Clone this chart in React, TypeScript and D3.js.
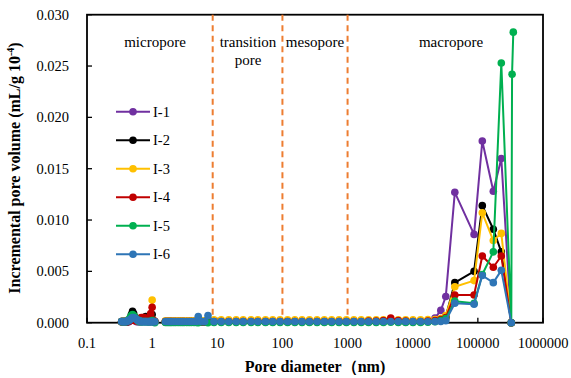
import React from 'react';
import * as d3 from 'd3';

// ---------- data ----------
const diametersCO2 = [0.34, 0.36, 0.38, 0.40, 0.42, 0.44, 0.46, 0.48, 0.50, 0.52, 0.55, 0.58, 0.61, 0.64, 0.68, 0.72, 0.76, 0.80, 0.85, 0.90, 0.95, 1.00, 1.05, 1.10];
const diametersN2 = [1.6, 1.7, 1.8, 1.9, 2.0, 2.15, 2.3, 2.5, 2.7, 2.9, 3.1, 3.4, 3.7, 4.0, 4.4, 4.8, 5.1, 5.7, 6.4, 7.2, 8.9, 11.5, 15, 19.5, 25, 33, 42, 55, 71, 92, 120, 155, 200, 260, 340, 440, 570, 740, 960, 1250, 1620, 2100, 2750, 3550, 4600, 6000, 7800, 10100, 13200, 17100, 22000, 27000, 32200];
const diametersHg = [44300, 87500, 117000, 172700, 229000, 326000, 335000, 350000];

const seriesNames = ['I-1', 'I-2', 'I-3', 'I-4', 'I-5', 'I-6'];
const seriesColors = ['#7030A0', '#000000', '#FFC000', '#C00000', '#00B050', '#2E75B6'];

const i1CO2 = [0.0001, 0.0001, 0.0001, 0.0001, 0.0001, 0.0001, 0.0002, 0.0003, 0.0004, 0.0003, 0.0002, 0.0001, 0.0001, 0.0001, 0.0001, 0.0002, 0.0002, 0.0002, 0.0001, 0.0001, 0.0001, 0.0003, 0.0001, 0.0001];
const i2CO2 = [0.0001, 0.0001, 0.0001, 0.0001, 0.0001, 0.0002, 0.0004, 0.0008, 0.0011, 0.0009, 0.0005, 0.0003, 0.0002, 0.0002, 0.0002, 0.0003, 0.0005, 0.0006, 0.0004, 0.0002, 0.0003, 0.0008, 0.0002, 0.0001];
const i3CO2 = [0.0001, 0.0001, 0.0001, 0.0002, 0.0002, 0.0002, 0.0003, 0.0004, 0.0005, 0.0004, 0.0003, 0.0002, 0.0002, 0.0002, 0.0003, 0.0004, 0.0004, 0.0003, 0.0002, 0.0002, 0.0003, 0.0022, 0.0002, 0.0001];
const i4CO2 = [0.0001, 0.0001, 0.0001, 0.0001, 0.0001, 0.0002, 0.0002, 0.0003, 0.0004, 0.0003, 0.0002, 0.0002, 0.0003, 0.0004, 0.0005, 0.0005, 0.0005, 0.0004, 0.0002, 0.0002, 0.0009, 0.0015, 0.0002, 0.0001];
const i5CO2 = [0.0001, 0.0001, 0.0001, 0.0001, 0.0002, 0.0003, 0.0005, 0.0007, 0.0008, 0.0007, 0.0005, 0.0003, 0.0002, 0.0001, 0.0001, 0.0001, 0.0001, 0.0001, 0.0001, 0.0001, 0.0001, 0.0002, 0.0001, 0.0000];
const i6CO2 = [0.0001, 0.0001, 0.0001, 0.0001, 0.0002, 0.0002, 0.0003, 0.0004, 0.0005, 0.0005, 0.0004, 0.0003, 0.0002, 0.0002, 0.0001, 0.0001, 0.0001, 0.0001, 0.0001, 0.0001, 0.0001, 0.0001, 0.0001, 0.0001];

const i1N2 = [0.00008, 0.00008, 0.00008, 0.00008, 0.00008, 0.00008, 0.00008, 0.00008, 0.00008, 0.00008, 0.00008, 0.00008, 0.00008, 0.00008, 0.00008, 0.00008, 0.0001, 0.00008, 0.00008, 0.0001, 0.00008, 0.00008, 0.00008, 0.00008, 0.00008, 0.00008, 0.00008, 0.00008, 0.00008, 0.00008, 0.00008, 0.00008, 0.00008, 0.00008, 0.00008, 0.00008, 0.00008, 0.00008, 0.00008, 0.00008, 0.00008, 0.00008, 0.00008, 0.0001, 0.00015, 0.0001, 0.00008, 0.00008, 0.0001, 0.00015, 0.00045, 0.0012, 0.00255];
const i2N2 = [0.0001, 0.0001, 0.0001, 0.0001, 0.0001, 0.0001, 0.0001, 0.0001, 0.0001, 0.0001, 0.0001, 0.0001, 0.0001, 0.0001, 0.0001, 0.0001, 0.00015, 0.0001, 0.0001, 0.00015, 0.00012, 0.00012, 0.00012, 0.00012, 0.00012, 0.00012, 0.00012, 0.00012, 0.00012, 0.00012, 0.00012, 0.00012, 0.00012, 0.00012, 0.00012, 0.00012, 0.00012, 0.00012, 0.00012, 0.00012, 0.00012, 0.00012, 0.00012, 0.00012, 0.0002, 0.00012, 0.00012, 0.00012, 0.00012, 0.00015, 0.0002, 0.0003, 0.0006];
const i3N2 = [0.00018, 0.00018, 0.00018, 0.00018, 0.00018, 0.00018, 0.00018, 0.00018, 0.00018, 0.00018, 0.00018, 0.00018, 0.00018, 0.00018, 0.00018, 0.00018, 0.00025, 0.00018, 0.00018, 0.00025, 0.00028, 0.00028, 0.00028, 0.00028, 0.00028, 0.00028, 0.00028, 0.00028, 0.00028, 0.00028, 0.00028, 0.00028, 0.00028, 0.00028, 0.00028, 0.00028, 0.00028, 0.00028, 0.00028, 0.00028, 0.00028, 0.00028, 0.00028, 0.00028, 0.0003, 0.00028, 0.00028, 0.00028, 0.00028, 0.0003, 0.0003, 0.0004, 0.0007];
const i4N2 = [0.0001, 0.0001, 0.0001, 0.0001, 0.0001, 0.0001, 0.0001, 0.0001, 0.0001, 0.0001, 0.0001, 0.0001, 0.0001, 0.0001, 0.0001, 0.0001, 0.00015, 0.0001, 0.0001, 0.00015, 0.00012, 0.00012, 0.00012, 0.00012, 0.00012, 0.00012, 0.00012, 0.00012, 0.00012, 0.00012, 0.00012, 0.00012, 0.00012, 0.00012, 0.00012, 0.00012, 0.00012, 0.00012, 0.00012, 0.00012, 0.00012, 0.00015, 0.00015, 0.0002, 0.00045, 0.0002, 0.00015, 0.00012, 0.00012, 0.00015, 0.0002, 0.0003, 0.0005];
const i5N2 = [0.00003, 0.00003, 0.00003, 0.00003, 0.00003, 0.00003, 0.00003, 0.00003, 0.00003, 0.00003, 0.00003, 0.00003, 0.00003, 0.00003, 0.00003, 0.00003, 0.0000, 0.0001, 0.0001, 0.0000, 0.00003, 0.00003, 0.00003, 0.00003, 0.00003, 0.00003, 0.00003, 0.00003, 0.00003, 0.00003, 0.00003, 0.00003, 0.00003, 0.00003, 0.00003, 0.00003, 0.00003, 0.00003, 0.00003, 0.00003, 0.00003, 0.00003, 0.00003, 0.00003, 0.00005, 0.00003, 0.00003, 0.00003, 0.00003, 0.00005, 0.0001, 0.0002, 0.0004];
const i6N2 = [0.00012, 0.00012, 0.00012, 0.00012, 0.00012, 0.00012, 0.00012, 0.00012, 0.00012, 0.00012, 0.00012, 0.00012, 0.00012, 0.00012, 0.00012, 0.00012, 0.0006, 0.00012, 0.00012, 0.0007, 0.00012, 0.00012, 0.00012, 0.00012, 0.00012, 0.00012, 0.00012, 0.00012, 0.00012, 0.00012, 0.00012, 0.00012, 0.00012, 0.00012, 0.00012, 0.00012, 0.00012, 0.00012, 0.00012, 0.00012, 0.00012, 0.00012, 0.00012, 0.00012, 0.00012, 0.00012, 0.00012, 0.00012, 0.00012, 0.00012, 0.00012, 0.00012, 0.0002];

const i1Hg = [0.0127, 0.0086, 0.0177, 0.0128, 0.0160, 0, null, null];
const i2Hg = [0.0039, 0.0050, 0.0114, 0.0091, 0.0069, 0, null, null];
const i3Hg = [0.0035, 0.0041, 0.0107, 0.0080, 0.0087, 0, null, null];
const i4Hg = [0.0027, 0.0027, 0.0065, 0.0054, 0.0065, 0, null, null];
const i5Hg = [0.0021, 0.0019, 0.0047, 0.0069, 0.0253, 0, 0.0242, 0.0283];
const i6Hg = [0.0019, 0.0018, 0.0046, 0.0039, 0.0051, 0, null, null];

const co2Values = [i1CO2, i2CO2, i3CO2, i4CO2, i5CO2, i6CO2];
const n2HgValues = [
  [...i1N2, ...i1Hg],
  [...i2N2, ...i2Hg],
  [...i3N2, ...i3Hg],
  [...i4N2, ...i4Hg],
  [...i5N2, ...i5Hg],
  [...i6N2, ...i6Hg],
];

const xTickValues = [0.1, 1, 10, 100, 1000, 10000, 100000, 1000000];
const xTickLabels = ['0.1', '1', '10', '100', '1000', '10000', '100000', '1000000'];
const yTickValues = [0, 0.005, 0.01, 0.015, 0.02, 0.025, 0.03];
const yTickLabels = ['0.000', '0.005', '0.010', '0.015', '0.020', '0.025', '0.030'];
const boundaryDiameters = [8.5, 100, 1000];

type Pt = { x: number; y: number | null };

export default function App() {
  const W = 571, H = 378;
  const L = 87, R = 543, T = 14.7, B = 322.7;
  const x = d3.scaleLog().domain([0.1, 1000000]).range([L, R]);
  const y = d3.scaleLinear().domain([0, 0.03]).range([B, T]);
  const font = "'Liberation Serif', 'Times New Roman', serif";
  const line = d3.line<Pt>().defined(d => d.y != null).x(d => x(d.x)).y(d => y(d.y as number));

  const segs = seriesNames.map((_, i) => {
    const a: Pt[] = diametersCO2.map((dx, j) => ({ x: dx, y: co2Values[i][j] }));
    const bx = [...diametersN2, ...diametersHg];
    const b: Pt[] = bx.map((dx, j) => ({ x: dx, y: n2HgValues[i][j] }));
    return [a, b];
  });

  return (
    <svg width={W} height={H} style={{ position: 'absolute', left: 0, top: 0, background: '#fff' }} fontFamily={font}>
      <rect x={0} y={0} width={W} height={H} fill="#fff" />
      <rect x={L} y={T} width={R - L} height={B - T} fill="none" stroke="#000" strokeWidth={1.8} />
      {xTickValues.map((v, i) => (
        <g key={'xt' + i}>
          <line x1={x(v)} x2={x(v)} y1={B} y2={B - 5} stroke="#000" strokeWidth={1.3} />
          <text x={x(v)} y={348} textAnchor="middle" fontSize={14.5} fill="#000">{xTickLabels[i]}</text>
        </g>
      ))}
      {yTickValues.map((v, i) => (
        <g key={'yt' + i}>
          <line x1={L} x2={L + 5} y1={y(v)} y2={y(v)} stroke="#000" strokeWidth={1.3} />
          <text x={69} y={y(v) + 5} textAnchor="end" fontSize={14.5} fill="#000">{yTickLabels[i]}</text>
        </g>
      ))}
      {boundaryDiameters.map((v, i) => (
        <line key={'bd' + i} x1={x(v)} x2={x(v)} y1={T} y2={B} stroke="#ED7D31" strokeWidth={2} strokeDasharray="6,4.5" />
      ))}
      <text x={155} y={47} textAnchor="middle" fontSize={15}>micropore</text>
      <text x={248} y={47} textAnchor="middle" fontSize={15}>transition</text>
      <text x={248} y={65} textAnchor="middle" fontSize={15}>pore</text>
      <text x={315} y={47} textAnchor="middle" fontSize={15}>mesopore</text>
      <text x={451} y={47} textAnchor="middle" fontSize={15}>macropore</text>
      {segs.map((ss, i) => (
        <g key={'s' + i}>
          {ss.map((pts, k) => (
            <path key={k} d={line(pts) || ''} fill="none" stroke={seriesColors[i]} strokeWidth={2} strokeLinejoin="round" />
          ))}
          {ss.flat().filter(p => p.y != null).map((p, j) => (
            <circle key={j} cx={x(p.x)} cy={y(p.y as number)} r={3.8} fill={seriesColors[i]} />
          ))}
        </g>
      ))}
      {seriesNames.map((n, i) => {
        const ly = 111.7 + i * 28.5;
        return (
          <g key={'lg' + i}>
            <line x1={116} x2={150} y1={ly} y2={ly} stroke={seriesColors[i]} strokeWidth={2} />
            <circle cx={133} cy={ly} r={3.8} fill={seriesColors[i]} />
            <text x={153} y={ly + 5} fontSize={14.5}>{n}</text>
          </g>
        );
      })}
      <text x={315} y={372} textAnchor="middle" fontSize={16} fontWeight="bold">Pore diameter（nm)</text>
      <text transform="translate(20,168) rotate(-90)" textAnchor="middle" fontSize={16} fontWeight="bold">
        Incremental pore volume (mL/g 10<tspan dy={-6} fontSize={10}>-4</tspan><tspan dy={6}>)</tspan>
      </text>
    </svg>
  );
}
